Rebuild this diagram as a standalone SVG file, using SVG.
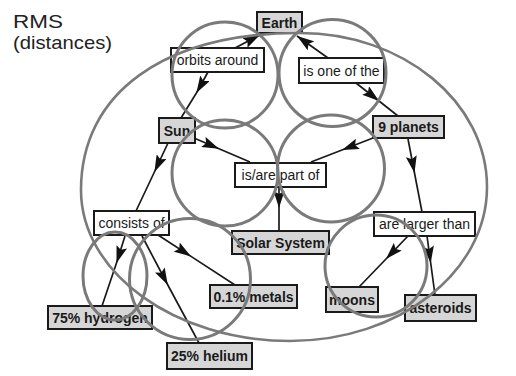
<svg xmlns="http://www.w3.org/2000/svg" width="516" height="376" viewBox="0 0 516 376">
<style>
.bg{fill:#ffffff}
.title{font-family:"Liberation Sans",Arial,sans-serif;fill:#222;font-size:19px}
.c rect{stroke:#1a1a1a;stroke-width:2}
.concept rect{fill:#d6d6d6}
.link rect{fill:#ffffff}
.c text{font-family:"Liberation Sans",Arial,sans-serif;font-size:14px;fill:#1a1a1a;text-anchor:middle}
.concept text{font-weight:bold}
.conn path{fill:none;stroke:#1a1a1a;stroke-width:1.7}
.ov{fill:none;stroke:#7a7a7a;stroke-width:3}
.big{fill:none;stroke:#7a7a7a;stroke-width:2.6}
</style>
<defs>
<marker id="ah" markerUnits="userSpaceOnUse" markerWidth="17" markerHeight="11" refX="17" refY="5.5" orient="auto" viewBox="0 0 17 11">
<path d="M0,0 L17,5.5 L0,11 L3,5.5 z" fill="#111"/>
</marker>
</defs>
<rect class="bg" x="0" y="0" width="516" height="376"/>
<text class="title" x="13" y="28" textLength="50" lengthAdjust="spacingAndGlyphs">RMS</text>
<text class="title" x="13" y="49" textLength="99" lengthAdjust="spacingAndGlyphs">(distances)</text>

<g id="connectors" class="conn">
<path d="M235,48 L260,35" marker-end="url(#ah)"/>
<path d="M328,58 L297,36" marker-end="url(#ah)"/>
<path d="M208,72 L196.4,93 L181,118" marker-mid="url(#ah)"/>
<path d="M168,143 L154.4,172 L136,211" marker-mid="url(#ah)"/>
<path d="M194,138 L219,148.7 L250,162" marker-mid="url(#ah)"/>
<path d="M356,83 L379,101 L398,116" marker-mid="url(#ah)"/>
<path d="M373,138 L342,150 L311,162" marker-mid="url(#ah)"/>
<path d="M408,139 L414.5,173 L422,212" marker-mid="url(#ah)"/>
<path d="M279,187 L279,208 L279,231" marker-mid="url(#ah)"/>
<path d="M125,236 L116.5,263 L102,306" marker-mid="url(#ah)"/>
<path d="M142,236 L167.8,285 L199,343" marker-mid="url(#ah)"/>
<path d="M158,235 L191,256.4 L235,285" marker-mid="url(#ah)"/>
<path d="M408,236 L386,259 L359,287" marker-mid="url(#ah)"/>
<path d="M427,236 L430.7,263 L435,295" marker-mid="url(#ah)"/>
</g>

<g id="earth" class="c concept"><rect x="257" y="12" width="45" height="21"/><text x="279.5" y="27.5">Earth</text></g>
<g id="orbits-around" class="c link"><rect x="171" y="48" width="93" height="24"/><text x="217.5" y="65">orbits around</text></g>
<g id="is-one-of-the" class="c link"><rect x="299" y="58" width="85" height="25"/><text x="341.5" y="75.5">is one of the</text></g>
<g id="sun" class="c concept"><rect x="159" y="118" width="36" height="25"/><text x="177" y="135.5">Sun</text></g>
<g id="nine-planets" class="c concept"><rect x="373" y="116" width="71" height="22"/><text x="408.5" y="132">9 planets</text></g>
<g id="is-are-part-of" class="c link"><rect x="235" y="163" width="91" height="24"/><text x="280.5" y="180">is/are part of</text></g>
<g id="solar-system" class="c concept"><rect x="232" y="231" width="97" height="23"/><text x="280.5" y="247.5">Solar System</text></g>
<g id="consists-of" class="c link"><rect x="94" y="211" width="75" height="24"/><text x="131.5" y="228">consists of</text></g>
<g id="are-larger-than" class="c link"><rect x="374" y="212" width="101" height="24"/><text x="424.5" y="229">are larger than</text></g>
<g id="hydrogen" class="c concept"><rect x="48" y="306" width="104" height="23"/><text x="100" y="322.5">75% hydrogen</text></g>
<g id="helium" class="c concept"><rect x="167" y="343" width="85" height="26"/><text x="209.5" y="361">25% helium</text></g>
<g id="metals" class="c concept"><rect x="210" y="285" width="87" height="23"/><text x="253.5" y="301.5">0.1% metals</text></g>
<g id="moons" class="c concept"><rect x="326" y="287" width="52" height="25"/><text x="352" y="304.5">moons</text></g>
<g id="asteroids" class="c concept"><rect x="405" y="295" width="71" height="26"/><text x="440.5" y="313">asteroids</text></g>

<g id="overlays">
<path class="big" d="M300,33 C403,33 487,102 487,187 C487,272 399,341 290,341 C175,341 81,273 81,190 C81,93 164,33 300,33 Z"/>
<circle class="ov" cx="225" cy="75" r="53"/>
<circle class="ov" cx="332.5" cy="73" r="53.5"/>
<circle class="ov" cx="225" cy="173" r="53"/>
<circle class="ov" cx="331" cy="168.5" r="53.5"/>
<ellipse class="ov" cx="115" cy="276" rx="32" ry="44"/>
<circle class="ov" cx="190" cy="279" r="60.5"/>
<circle class="ov" cx="376" cy="266" r="51"/>
</g>
</svg>
